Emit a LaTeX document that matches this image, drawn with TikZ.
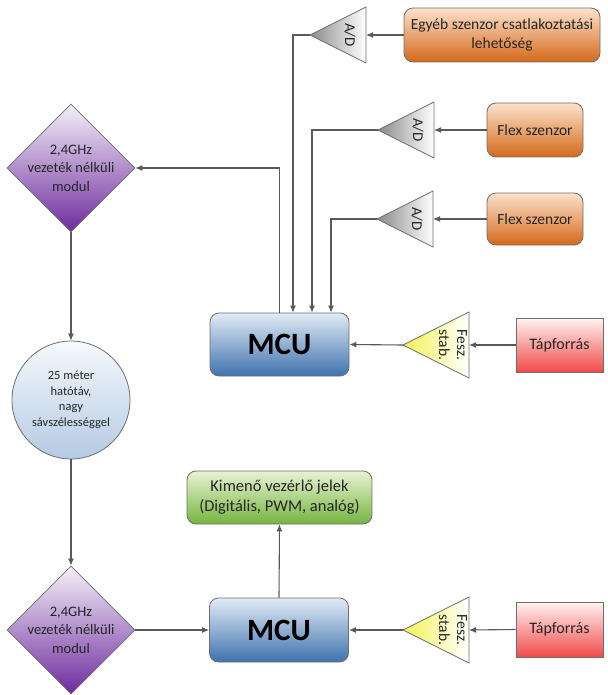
\documentclass[tikz,border=0pt]{standalone}
\usepackage{fontspec}
\setmainfont{Carlito}
\usetikzlibrary{shapes.geometric,arrows.meta}
\definecolor{linec}{HTML}{595959}
\definecolor{borderc}{HTML}{6E6E6E}
\definecolor{orangetop}{HTML}{FCE2CC}
\definecolor{orangebot}{HTML}{D4691A}
\definecolor{bluetop}{HTML}{E2EBF5}
\definecolor{bluebot}{HTML}{3F72AE}
\definecolor{greentop}{HTML}{E8F2D4}
\definecolor{greenbot}{HTML}{76B440}
\definecolor{redtop}{HTML}{FFF2F2}
\definecolor{redbot}{HTML}{F24A4A}
\definecolor{violettop}{HTML}{F4F0F8}
\definecolor{violetbot}{HTML}{6E2C9E}
\definecolor{circtop}{HTML}{F6F9FC}
\definecolor{circbot}{HTML}{B5CAE3}
\definecolor{yellowl}{HTML}{F2F255}
\definecolor{grayd}{HTML}{8A8A8A}
\definecolor{textc}{HTML}{262626}
\begin{document}
\begin{tikzpicture}[x=1pt,y=-1pt, text=textc,
  conn/.style={draw=linec, line width=1.1pt, -{Latex[length=7pt,width=6pt]}},
  rbox/.style={draw=borderc, line width=0.8pt, rounded corners=9pt, align=center, inner sep=2pt},
  orangebox/.style={rbox, top color=orangetop, bottom color=orangebot, font=\fontsize{15.5}{19.5}\selectfont},
  bluebox/.style={rbox, top color=bluetop, bottom color=bluebot, minimum width=139pt, minimum height=63pt, font=\fontsize{31}{34}\selectfont\bfseries, text=black},
  redbox/.style={draw=borderc, line width=0.8pt, top color=redtop, bottom color=redbot, minimum width=87pt, minimum height=54pt, font=\fontsize{16}{19}\selectfont},
  diabox/.style={diamond, draw=borderc, line width=0.8pt, top color=violettop, bottom color=violetbot, minimum width=128pt, minimum height=128pt, inner sep=0pt},
  diatext/.style={align=center, font=\fontsize{14.5}{18.5}\selectfont},
  adtri/.pic={
    \path[draw=borderc, line width=0.8pt, left color=grayd, right color=white]
      (0,0) coordinate (-apex) -- (56,-28) -- (56,28) -- cycle;
    \coordinate (-base) at (56,0);
    \node[rotate=-90, font=\fontsize{15}{17}\selectfont] (-label) at (40,0) {A/D};
  },
  fesztri/.pic={
    \path[draw=borderc, line width=0.8pt, left color=yellowl, right color=white]
      (0,0) coordinate (-apex) -- (66,-33) -- (66,33) -- cycle;
    \coordinate (-base) at (66,0);
    \node[rotate=-90, align=center, font=\fontsize{15.5}{18}\selectfont] (-label) at (50,0) {Fesz.\\stab.};
  }
]
\useasboundingbox (0,0) rectangle (607,695);

% top sensor chain
\node[orangebox, minimum width=196pt, minimum height=54pt] (egyeb) at (502,35) {Egyéb szenzor csatlakoztatási\\lehetőség};
\pic (ad1) at (310,35) {adtri};
\node[orangebox, minimum width=96pt, minimum height=54pt] (flex1) at (535,130) {Flex szenzor};
\pic (ad2) at (378,130) {adtri};
\node[orangebox, minimum width=96pt, minimum height=52pt] (flex2) at (535,219) {Flex szenzor};
\pic (ad3) at (377,219) {adtri};

\node[bluebox] (mcu1) at (279.5,344.5) {MCU};
\pic (fesz1) at (403,345) {fesztri};
\node[redbox] (tap1) at (559.5,345) {Tápforrás};

\node[diabox] (dia1) at (71,168) {};
\node[diatext] (dia1t) at (dia1.center) {2,4GHz\\vezeték nélküli\\modul};

\node[circle, draw=borderc, line width=0.8pt, top color=circtop, bottom color=circbot, minimum size=118pt, inner sep=0pt, align=center, font=\fontsize{12.5}{15.5}\selectfont] (circ) at (71,400) {25 méter\\hatótáv,\\nagy\\sávszélességgel};

\node[diabox] (dia2) at (71,630) {};
\node[diatext] (dia2t) at (dia2.center) {2,4GHz\\vezeték nélküli\\modul};

\node[rbox, top color=greentop, bottom color=greenbot, minimum width=185pt, minimum height=53pt, font=\fontsize{16.5}{20}\selectfont] (green) at (279.5,497.5) {Kimenő vezérlő jelek\\(Digitális, PWM, analóg)};
\node[bluebox, minimum height=64pt] (mcu2) at (279,630) {MCU};
\pic (fesz2) at (403,630) {fesztri};
\node[redbox, minimum height=55pt] (tap2) at (559.5,629.5) {Tápforrás};

% connectors
\draw[conn] (egyeb.west) -- (ad1-base);
\draw[conn] (flex1.west) -- (ad2-base);
\draw[conn] (flex2.west) -- (ad3-base);
\draw[conn] (ad1-apex) -| ([xshift=13.5pt]mcu1.north);
\draw[conn] (ad2-apex) -| ([xshift=32.5pt]mcu1.north);
\draw[conn] (ad3-apex) -| ([xshift=51.5pt]mcu1.north);
\draw[conn] (mcu1.north) |- (dia1.east);
\draw[conn] (tap1.west) -- (fesz1-base);
\draw[conn] (fesz1-apex) -- (mcu1.east);
\draw[conn] (dia1.south) -- (circ.north);
\draw[conn] (circ.south) -- (dia2.north);
\draw[conn] (dia2.east) -- (mcu2.west);
\draw[conn] (mcu2.north) -- (green.south);
\draw[conn] (tap2.west) -- (fesz2-base);
\draw[conn] (fesz2-apex) -- (mcu2.east);
\end{tikzpicture}
\end{document}
